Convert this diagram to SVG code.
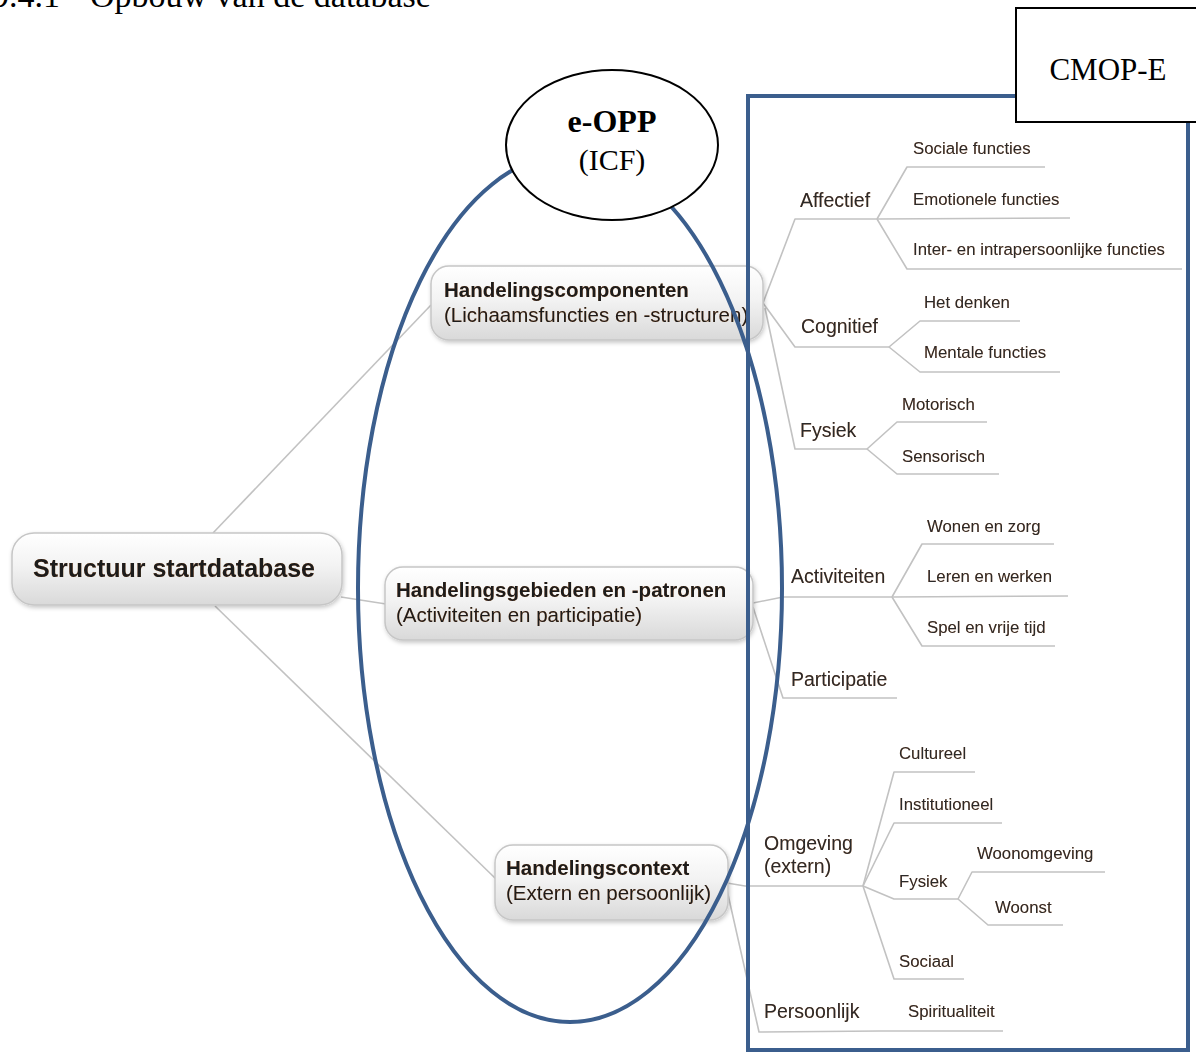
<svg xmlns="http://www.w3.org/2000/svg" width="1196" height="1052" viewBox="0 0 1196 1052">
<defs>
<linearGradient id="nodeGrad" x1="0" y1="0" x2="0" y2="1">
<stop offset="0" stop-color="#ffffff"/>
<stop offset="0.45" stop-color="#f3f3f3"/>
<stop offset="1" stop-color="#d9d9d9"/>
</linearGradient>
<filter id="shadow" x="-10%" y="-20%" width="120%" height="150%">
<feDropShadow dx="1" dy="2" stdDeviation="2" flood-color="#000" flood-opacity="0.22"/>
</filter>
<filter id="glow" x="-5%" y="-20%" width="110%" height="140%">
<feDropShadow dx="0" dy="0" stdDeviation="0.7" flood-color="#a0601a" flood-opacity="0.55"/>
</filter>
</defs>
<style>
.title{font-family:"Liberation Serif","Times New Roman",serif;font-size:34px;fill:#000}
.conn{fill:none;stroke:#c2c2c2;stroke-width:1.6;stroke-linejoin:round}
.node rect{fill:url(#nodeGrad);stroke:#c6c6c6;stroke-width:1.5;filter:url(#shadow)}
.nt{font-family:"Liberation Sans",Arial,sans-serif;fill:#1a1a1a;filter:url(#glow)}
.nb{font-weight:bold;font-size:20.5px}
.nn{font-size:20.5px}
.l1{font-family:"Liberation Sans",Arial,sans-serif;font-size:19.5px;fill:#2a2a2a;filter:url(#glow)}
.l2{font-family:"Liberation Sans",Arial,sans-serif;font-size:16.8px;fill:#2a2a2a;filter:url(#glow)}
.blue{fill:none;stroke:#3b5e8d;stroke-width:4}
.black{fill:#fff;stroke:#000;stroke-width:2}
.serif{font-family:"Liberation Serif","Times New Roman",serif;fill:#000}
</style>
<rect width="1196" height="1052" fill="#fff"/>
<text class="title" x="-8" y="7">9.4.1</text>
<text class="title" x="90" y="7">Opbouw van de database</text>

<g id="connectors">
<path class="conn" d="M213,533 L431,305"/>
<path class="conn" d="M341,597 L386,604"/>
<path class="conn" d="M215,606 L496,879"/>
<path class="conn" d="M763,303 L795,219 L877,219"/>
<path class="conn" d="M877,219 L907,167 L1045,167"/>
<path class="conn" d="M877,219 L1070,218"/>
<path class="conn" d="M877,219 L907,269 L1182,269"/>
<path class="conn" d="M763,303 L795,347 L889,347"/>
<path class="conn" d="M889,347 L920,321 L1020,321"/>
<path class="conn" d="M889,347 L920,372 L1060,372"/>
<path class="conn" d="M765,308 L795,449 L867,449"/>
<path class="conn" d="M867,449 L897,422 L987,422"/>
<path class="conn" d="M867,449 L897,474 L999,474"/>
<path class="conn" d="M753,603 L783,597 L892,597"/>
<path class="conn" d="M892,597 L922,544 L1054,544"/>
<path class="conn" d="M892,597 L1068,596"/>
<path class="conn" d="M892,597 L922,646 L1055,646"/>
<path class="conn" d="M753,607 L783,698 L897,698"/>
<path class="conn" d="M727,883 L745,886 L863,886"/>
<path class="conn" d="M863,886 L894,772 L975,772"/>
<path class="conn" d="M863,886 L894,823 L1002,823"/>
<path class="conn" d="M863,886 L894,899 L958,899"/>
<path class="conn" d="M958,899 L972,872 L1105,872"/>
<path class="conn" d="M958,899 L988,925 L1063,925"/>
<path class="conn" d="M863,886 L894,979 L964,979"/>
<path class="conn" d="M727,890 L759,1032 L880,1031 L1003,1031"/>
</g>

<g id="structuur" class="node">
<rect x="12" y="533" width="330" height="72" rx="22"/>
<text class="nt" x="33" y="577" font-weight="bold" font-size="25">Structuur startdatabase</text>
</g>
<g id="handelingscomponenten" class="node">
<rect x="431" y="266" width="332" height="74" rx="18"/>
<text class="nt nb" x="444" y="297">Handelingscomponenten</text>
<text class="nt nn" x="444" y="322">(Lichaamsfuncties en -structuren)</text>
</g>
<g id="handelingsgebieden" class="node">
<rect x="385" y="567" width="368" height="73" rx="18"/>
<text class="nt nb" x="396" y="597">Handelingsgebieden en -patronen</text>
<text class="nt nn" x="396" y="622">(Activiteiten en participatie)</text>
</g>
<g id="handelingscontext" class="node">
<rect x="495" y="845" width="233" height="75" rx="18"/>
<text class="nt nb" x="506" y="875">Handelingscontext</text>
<text class="nt nn" x="506" y="900">(Extern en persoonlijk)</text>
</g>

<g id="affectief"><text class="l1" x="800" y="207">Affectief</text></g>
<g id="sociale-functies"><text class="l2" x="913" y="154">Sociale functies</text></g>
<g id="emotionele-functies"><text class="l2" x="913" y="205">Emotionele functies</text></g>
<g id="inter-functies"><text class="l2" x="913" y="255">Inter- en intrapersoonlijke functies</text></g>
<g id="cognitief"><text class="l1" x="801" y="333">Cognitief</text></g>
<g id="het-denken"><text class="l2" x="924" y="308">Het denken</text></g>
<g id="mentale-functies"><text class="l2" x="924" y="358">Mentale functies</text></g>
<g id="fysiek1"><text class="l1" x="800" y="437">Fysiek</text></g>
<g id="motorisch"><text class="l2" x="902" y="410">Motorisch</text></g>
<g id="sensorisch"><text class="l2" x="902" y="462">Sensorisch</text></g>
<g id="activiteiten"><text class="l1" x="791" y="583">Activiteiten</text></g>
<g id="wonen-zorg"><text class="l2" x="927" y="532">Wonen en zorg</text></g>
<g id="leren-werken"><text class="l2" x="927" y="582">Leren en werken</text></g>
<g id="spel-vrije-tijd"><text class="l2" x="927" y="633">Spel en vrije tijd</text></g>
<g id="participatie"><text class="l1" x="791" y="686">Participatie</text></g>
<g id="omgeving"><text class="l1" x="764" y="850">Omgeving</text><text class="l1" x="764" y="873">(extern)</text></g>
<g id="cultureel"><text class="l2" x="899" y="759">Cultureel</text></g>
<g id="institutioneel"><text class="l2" x="899" y="810">Institutioneel</text></g>
<g id="fysiek2"><text class="l2" x="899" y="887">Fysiek</text></g>
<g id="woonomgeving"><text class="l2" x="977" y="859">Woonomgeving</text></g>
<g id="woonst"><text class="l2" x="995" y="913">Woonst</text></g>
<g id="sociaal"><text class="l2" x="899" y="967">Sociaal</text></g>
<g id="persoonlijk"><text class="l1" x="764" y="1018">Persoonlijk</text></g>
<g id="spiritualiteit"><text class="l2" x="908" y="1017">Spiritualiteit</text></g>

<g id="cmop-frame"><rect class="blue" x="748" y="96" width="440" height="954"/></g>
<g id="icf-ellipse"><ellipse class="blue" cx="570" cy="588" rx="212" ry="434"/></g>

<g id="e-opp">
<ellipse class="black" cx="612" cy="145" rx="106" ry="75"/>
<text class="serif" x="612" y="132" text-anchor="middle" font-weight="bold" font-size="32">e-OPP</text>
<text class="serif" x="612" y="170" text-anchor="middle" font-size="30">(ICF)</text>
</g>
<g id="cmop-e">
<rect class="black" x="1016" y="8" width="200" height="114"/>
<text class="serif" x="1108" y="80" text-anchor="middle" font-size="31">CMOP-E</text>
</g>
</svg>
